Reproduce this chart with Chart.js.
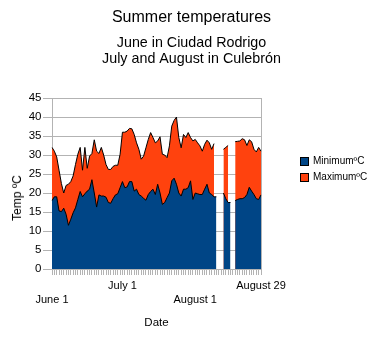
<!DOCTYPE html>
<html>
<head>
    <title>Summer temperatures</title>
    <style>
        body { margin: 0; background: #fff; font-family: "Liberation Sans", Arial, sans-serif; }
        #wrap { position: relative; width: 383px; height: 343px; }
        canvas { position: absolute; left: 0; top: 0; }
        #ytitle { position: absolute; left: 17px; top: 198px; font-size: 12px; color: #000;
                  transform: translate(-50%, -50%) rotate(-90deg); white-space: nowrap; }
        .leg { position: absolute; left: 300px; font-size: 10px; color: #000; white-space: nowrap; }
        .leg span { display: inline-block; width: 7px; height: 7px; border: 1px solid #000;
                    vertical-align: top; margin: 2px 4px 0 0; box-sizing: content-box; }
    </style>
</head>
<body>
<div id="wrap">
    <canvas id="tempChart" width="383" height="343"></canvas>
    <div id="ytitle">Temp ºC</div>
    <div class="leg" style="top:155px"><span style="background:#004586"></span>MinimumºC</div>
    <div class="leg" style="top:171px"><span style="background:#ff420e"></span>MaximumºC</div>
</div>

<script src="https://cdn.jsdelivr.net/npm/chart.js"></script>
<script>
    // month name and number of days logged
    const months = [['June', 30], ['July', 31], ['August', 29]];
    const days = [];
    months.forEach(([m, n]) => { for (let d = 1; d <= n; d++) days.push(m + ' ' + d); });

    // daily minimum, null = no reading
    const minTemps = [
        18, 19, 19, 15.3, 15.1, 16, 14.4, 11.5, 13.1, 14.8,
        16.1, 18.3, 20.4, 19, 19.8, 20.5, 21, 23.5, 20, 16.3,
        19.5, 19.2, 19.2, 18.9, 17.5, 17.3, 18.5, 19.5, 19.8, 21.4,
        23, 21.4, 21.6, 23, 23, 20.5, 21, 19.6, 19.2, 18.6,
        18.1, 19.6, 20.4, 21, 19.6, 22.3, 20, 17, 17.5, 18.8,
        20, 23.2, 23.9, 22.3, 20, 19.2, 21, 21, 21.4, 23.2,
        18.3, 20, 19.8, 19.6, 19.6, 21, 22.3, 20, 19.6, 19,
        19, null, null, 20, 18.5, 17.5, 17.5, null, 18, 18.3,
        18.5, 18.5, 18.8, 19.6, 21.5, 20.5, 19.6, 18.5, 18.3, 19.5
    ];

    // daily maximum
    const maxTemps = [
        32, 31, 29.5, 26, 22.5, 20, 22, 22.3, 23, 24.5,
        27.5, 30.2, 32, 26, 32, 26.5, 29.7, 30.4, 34, 31,
        30.4, 32, 30, 27.5, 26.2, 26.2, 27, 27.3, 27.3, 30.2,
        36, 36, 36.3, 37, 36.9, 35.4, 33.2, 31.5, 28.9, 29.7,
        31.9, 34.1, 35.9, 34.6, 33.2, 33.7, 34.8, 30.2, 30, 29.3,
        32.4, 37.6, 39.1, 40, 34.6, 31.9, 35.4, 34.6, 35.9, 34.6,
        33.7, 34.1, 33.2, 32.4, 31, 32.8, 33.9, 33.2, 31.5, 33,
        null, null, null, 31.5, 32, 32.5, null, null, 33.5, 33.6,
        33.7, 34.3, 34, 32.5, 34, 33.5, 31.5, 30.8, 32, 31
    ];

    // which labelled dates go on the upper (0) or lower (1) row
    const tickRows = { 'June 1': 1, 'July 1': 0, 'August 1': 1, 'August 29': 0 };

    const font = 'Liberation Sans, Arial, sans-serif';
    const grey = '#b3b3b3';

    new Chart(document.getElementById('tempChart'), {
        type: 'line',
        data: {
            labels: days,
            datasets: [
                {
                    label: 'MinimumºC',
                    data: minTemps,
                    backgroundColor: '#004586',
                    borderColor: '#000',
                    borderWidth: 1,
                    fill: 'origin'
                },
                {
                    label: 'MaximumºC',
                    data: maxTemps,
                    backgroundColor: '#ff420e',
                    borderColor: '#000',
                    borderWidth: 1,
                    fill: 'origin'
                }
            ]
        },
        options: {
            responsive: false,
            animation: false,
            spanGaps: false,
            elements: { point: { radius: 0 }, line: { tension: 0 } },
            layout: { padding: { left: 0, right: 0, top: 0, bottom: 13.6 } },
            plugins: {
                legend: { display: false },
                tooltip: { enabled: false },
                title: {
                    display: true,
                    text: 'Summer temperatures',
                    color: '#000',
                    font: { family: font, size: 16, weight: 'normal', lineHeight: 1.2 },
                    padding: { top: 7.6, bottom: 7.75 }
                },
                subtitle: {
                    display: true,
                    text: ['June in Ciudad Rodrigo', 'July and August in Culebrón'],
                    color: '#000',
                    font: { family: font, size: 14.3, weight: 'normal', lineHeight: 1.14 },
                    padding: { top: 0, bottom: 30.85 }
                }
            },
            scales: {
                x: {
                    offset: false,
                    border: { display: true, color: grey },
                    grid: { drawOnChartArea: false, color: grey, tickLength: 6 },
                    ticks: {
                        autoSkip: false,
                        maxRotation: 0,
                        minRotation: 0,
                        padding: 4,
                        color: '#000',
                        font: { family: font, size: 11, lineHeight: 1.3 },
                        callback: function (value) {
                            const lab = this.getLabelForValue(value);
                            const row = tickRows[lab];
                            if (row === undefined) return '';
                            return row ? ['', lab] : [lab, ''];
                        }
                    },
                    title: {
                        display: true,
                        text: 'Date',
                        color: '#000',
                        font: { family: font, size: 11.5, lineHeight: 1.2 },
                        padding: { top: 4, bottom: 0 }
                    }
                },
                y: {
                    min: 0,
                    max: 45,
                    afterFit: s => { s.width = 52; },
                    border: { display: true, color: grey },
                    grid: { color: grey, tickColor: grey, tickLength: 9 },
                    ticks: {
                        stepSize: 5,
                        padding: 1.5,
                        color: '#000',
                        font: { family: font, size: 11.5 }
                    }
                },
                // empty right-hand axis: closes the plot frame and leaves room for the legend
                yRight: {
                    position: 'right',
                    min: 0,
                    max: 45,
                    afterFit: s => { s.width = 122; },
                    border: { display: true, color: grey },
                    grid: { display: false },
                    ticks: { display: false }
                }
            }
        }
    });
</script>
</body>
</html>
